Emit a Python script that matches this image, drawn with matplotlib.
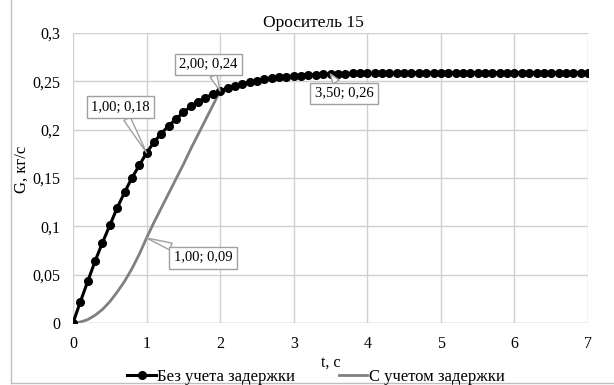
import numpy as np
import matplotlib.pyplot as plt
from matplotlib.lines import Line2D

plt.rcParams['font.family'] = ['Liberation Serif', 'DejaVu Serif']

# time points, s
t = [round(0.1 * i, 1) for i in range(71)]

# G without delay, kg/s
g_no_delay = [0.000, 0.022, 0.043, 0.064, 0.083, 0.101, 0.119, 0.135, 0.150, 0.163,
              0.176, 0.187, 0.196, 0.204, 0.211, 0.218, 0.224, 0.229, 0.233, 0.237,
              0.240, 0.243, 0.245, 0.247, 0.249, 0.2505, 0.252, 0.253, 0.254, 0.2548,
              0.2555, 0.256, 0.2565, 0.257, 0.2573, 0.2576, 0.2578, 0.258, 0.2582, 0.2583,
              0.2584, 0.2585, 0.2586, 0.2586, 0.2587, 0.2587, 0.2588, 0.2588, 0.2588, 0.2589,
              0.2589, 0.2589, 0.2589, 0.259, 0.259, 0.259, 0.259, 0.259, 0.259, 0.259,
              0.259, 0.259, 0.259, 0.259, 0.259, 0.259, 0.259, 0.259, 0.259, 0.259,
              0.259]

# G with delay, kg/s
g_delay = [0.000, 0.001, 0.0035, 0.008, 0.014, 0.022, 0.032, 0.043, 0.056, 0.071,
           0.088, 0.104, 0.119, 0.134, 0.149, 0.164, 0.180, 0.195, 0.210, 0.225,
           0.240] + g_no_delay[21:]

# labelled points: (series, index, offset in points)
labels = [(g_no_delay, 10, (-18.7, 32.8)),
          (g_delay, 20, (-8.3, 19.1)),
          (g_delay, 35, (9.7, -14.0)),
          (g_delay, 10, (40.6, -14.4))]

fig = plt.figure(figsize=(6.14, 3.85), dpi=100)
ax = fig.add_axes([73 / 614, 1 - 323 / 385, 515 / 614, 290 / 385])

ax.plot(t, g_delay, color='#808080', lw=2.0, label='С учетом задержки', zorder=3)
ax.plot(t, g_no_delay, color='black', lw=2.2, marker='o', ms=5.5,
        label='Без учета задержки', zorder=4)

for series, i, off in labels:
    txt = '{:.2f}; {:.2f}'.format(t[i], series[i]).replace('.', ',')
    ax.annotate(txt, xy=(t[i], series[i]), xytext=off, textcoords='offset points',
                ha='center', va='center', fontsize=10.5, zorder=6,
                bbox=dict(boxstyle='square,pad=0.3', fc='white', ec='#a0a0a0', lw=1),
                arrowprops=dict(arrowstyle='wedge,tail_width=0.5,shrink_factor=0.5',
                                fc='white', ec='#a0a0a0', lw=1, shrinkA=0, shrinkB=0))

ax.set_xlim(0, 7)
ax.set_ylim(0, 0.3)
ax.set_xticks(range(8))
ax.set_yticks([0, 0.05, 0.1, 0.15, 0.2, 0.25, 0.3])
ax.set_yticklabels(['0', '0,05', '0,1', '0,15', '0,2', '0,25', '0,3'])
ax.tick_params(length=0, labelsize=11.5, pad=9)
ax.grid(True, color='#d0d0d0', lw=1)
for s in ax.spines.values():
    s.set_visible(False)
ax.axhline(0, color='#c8c8c8', lw=1, zorder=1)

fig.text(313 / 614, 1 - 23 / 385, 'Ороситель 15', ha='center', va='center', fontsize=12.5)
fig.text(22 / 614, 1 - 169 / 385, 'G, кг/с', ha='center', va='center',
         rotation=90, fontsize=12)
fig.text(331 / 614, 1 - 363 / 385, 't, с', ha='center', va='center', fontsize=11.5)

h, l = ax.get_legend_handles_labels()
fig.legend(h[::-1], l[::-1], loc='center', ncol=2, frameon=False, fontsize=12,
           bbox_to_anchor=(316 / 614, 1 - 377 / 385), handlelength=1.7,
           handletextpad=0.1, columnspacing=2.6)

# chart area border
fig.add_artist(Line2D([11 / 614, 11 / 614], [1 - 383 / 385, 1], color='#bfbfbf', lw=1))
fig.add_artist(Line2D([11 / 614, 1], [1 - 383 / 385, 1 - 383 / 385], color='#bfbfbf', lw=1))

fig.savefig('out.png', dpi=100)
